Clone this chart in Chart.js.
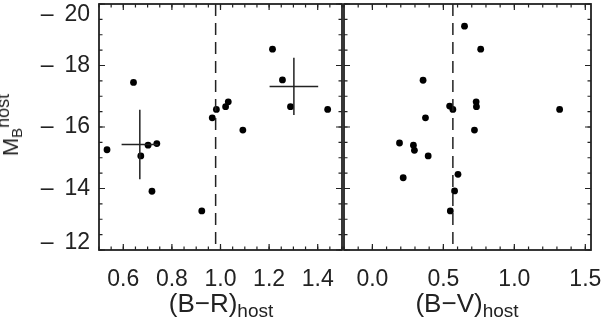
<!DOCTYPE html>
<html>
<head>
<meta charset="utf-8">
<script src="https://cdn.jsdelivr.net/npm/chart.js@4.4.1/dist/chart.umd.min.js"></script>
<style>
    html, body { margin: 0; padding: 0; background: #fff; }
    #wrap { position: relative; width: 602px; height: 322px; overflow: hidden; font-family: "Liberation Sans", Arial, sans-serif; color: #222; }
    canvas { position: absolute; top: 0; }
    #cL { left: 0; }
    #cR { left: 340px; }
    .xt { position: absolute; top: 290px; font-size: 26px; line-height: 26px; white-space: nowrap; transform: translateX(-50%); }
    .xt span { font-size: 19px; position: relative; top: 5px; }
    #yt { position: absolute; left: 12px; top: 125px; font-size: 22px; line-height: 22px; white-space: nowrap; transform: translate(-50%, -50%) rotate(-90deg); }
    #yt .sb { font-size: 15px; position: relative; top: 4px; }
    #yt .sp { font-size: 18px; position: relative; top: -9px; }
</style>
</head>
<body>
<div id="wrap">
    <canvas id="cL" width="346" height="322"></canvas>
    <canvas id="cR" width="262" height="322"></canvas>
    <div class="xt" style="left:221px">(B&minus;R)<span>host</span></div>
    <div class="xt" style="left:467px">(B&minus;V)<span>host</span></div>
    <div id="yt">M<span class="sb">B</span><span class="sp">host</span></div>
</div>
<script>
// (B-R)host panel
const brX = [0.533, 0.642, 0.672, 0.702, 0.738, 0.718, 0.923, 0.966, 0.983, 1.021, 1.032, 1.092, 1.214, 1.255, 1.288, 1.441];
const brY = [-15.26, -17.45, -15.06, -15.41, -15.46, -13.91, -13.27, -16.30, -16.57, -16.66, -16.82, -15.90, -18.53, -17.53, -16.66, -16.57];
// mean points with error bars (left panel)
const errX = [0.668, 1.302];
const errY = [-15.43, -17.32];
const errDx = [0.075, 0.10];
const errDy = [1.13, 0.93];
// (B-V)host panel
const bvX = [0.649, 0.763, 0.357, 0.544, 0.567, 0.731, 0.733, 1.319, 0.374, 0.719, 0.191, 0.289, 0.296, 0.393, 0.217, 0.603, 0.579, 0.549];
const bvY = [-19.28, -18.53, -17.52, -16.68, -16.57, -16.82, -16.66, -16.57, -16.30, -15.90, -15.48, -15.41, -15.24, -15.06, -14.35, -14.46, -13.92, -13.27];
// dashed dividing colours
const cutBR = 0.98;
const cutBV = 0.567;
// axes
const yRange = [-20, -12];
const brRange = [0.5, 1.5];
const bvRange = [-0.2, 1.54];
const yTicks = [-20, -18, -16, -14, -12];
const brTicks = [0.6, 0.8, 1.0, 1.2, 1.4];
const bvTicks = [0.0, 0.5, 1.0, 1.5];

const INK = '#222';
const FONT = '"Liberation Sans", Arial, sans-serif';

// box frame + inward tick marks, y labels kept inside the frame like the original
const framePlugin = {
    id: 'frame',
    afterDatasetsDraw(chart, args, o) {
        const { ctx, chartArea: a, scales: { x, y } } = chart;
        ctx.save();
        ctx.strokeStyle = INK;
        ctx.lineWidth = 1.2;
        const marks = (scale, step, len, horiz) => {
            const k0 = Math.ceil(scale.min / step - 1e-6);
            for (let k = k0; k * step <= scale.max + 1e-6; k++) {
                const p = scale.getPixelForValue(k * step);
                ctx.beginPath();
                if (horiz) {
                    ctx.moveTo(p, a.bottom); ctx.lineTo(p, a.bottom - len);
                    ctx.moveTo(p, a.top); ctx.lineTo(p, a.top + len);
                } else {
                    ctx.moveTo(a.left, p); ctx.lineTo(a.left + len, p);
                    ctx.moveTo(a.right, p); ctx.lineTo(a.right - len, p);
                }
                ctx.stroke();
            }
        };
        marks(x, o.xMinor, 3.5, true);
        marks(x, o.xMajor, 6, true);
        marks(y, 0.5, 3.5, false);
        marks(y, 2, 6, false);
        ctx.lineWidth = 1.8;
        ctx.strokeRect(a.left, a.top, a.right - a.left, a.bottom - a.top);

        if (o.yLabels) {
            ctx.fillStyle = INK;
            ctx.font = '23px ' + FONT;
            ctx.textAlign = 'right';
            ctx.textBaseline = 'middle';
            const rx = a.left - 9;
            y.ticks.forEach((t) => {
                const p = y.getPixelForValue(t.value);
                const py = Math.min(Math.max(p, a.top + 11), a.bottom - 7);
                const digits = String(Math.abs(t.value));
                ctx.fillText(digits, rx, py);
                if (t.value < 0) {
                    const w = ctx.measureText(digits).width;
                    ctx.fillText('\u2013', rx - w - 11, py);
                }
            });
        }
        ctx.restore();
    }
};

function pts(xs, ys) {
    return xs.map((v, i) => ({ x: v, y: ys[i] }));
}

function cutLine(c) {
    return {
        type: 'line',
        data: [{ x: c, y: yRange[0] }, { x: c, y: yRange[1] }],
        borderColor: INK,
        borderWidth: 1.5,
        borderDash: [12, 7],
        pointRadius: 0
    };
}

function errBars() {
    const out = [];
    errX.forEach((cx, i) => {
        const cy = errY[i];
        out.push({ type: 'line', data: [{ x: cx - errDx[i], y: cy }, { x: cx + errDx[i], y: cy }], borderColor: INK, borderWidth: 1.5, pointRadius: 0 });
        out.push({ type: 'line', data: [{ x: cx, y: cy - errDy[i] }, { x: cx, y: cy + errDy[i] }], borderColor: INK, borderWidth: 1.5, pointRadius: 0 });
    });
    return out;
}

function makePanel(canvasId, cfg) {
    return new Chart(document.getElementById(canvasId).getContext('2d'), {
        type: 'scatter',
        data: {
            datasets: [
                ...cfg.extra,
                { data: cfg.points, backgroundColor: '#000', borderWidth: 0, pointRadius: 3.4 }
            ]
        },
        options: {
            responsive: false,
            animation: false,
            events: [],
            layout: { padding: cfg.padding },
            plugins: {
                legend: { display: false },
                tooltip: { enabled: false },
                frame: { xMinor: cfg.xMinor, xMajor: cfg.xMajor, yLabels: cfg.yLabels }
            },
            scales: {
                x: {
                    type: 'linear',
                    min: cfg.xRange[0],
                    max: cfg.xRange[1],
                    grid: { display: false, drawTicks: false },
                    border: { display: false },
                    ticks: { color: INK, font: { family: FONT, size: 23 }, padding: 16, maxRotation: 0, autoSkip: false, callback: (v) => v.toFixed(1) },
                    afterBuildTicks: (s) => { s.ticks = cfg.xTicks.map((value) => ({ value })); },
                    afterFit: (s) => { s.height = 72; s.paddingLeft = 0; s.paddingRight = 0; }
                },
                y: {
                    type: 'linear',
                    reverse: true,
                    min: yRange[0],
                    max: yRange[1],
                    grid: { display: false, drawTicks: false },
                    border: { display: false },
                    ticks: { display: false },
                    afterBuildTicks: (s) => { s.ticks = yTicks.map((value) => ({ value })); },
                    afterFit: (s) => { s.width = cfg.yWidth; s.paddingTop = 0; s.paddingBottom = 0; }
                }
            }
        },
        plugins: [framePlugin]
    });
}

makePanel('cL', {
    points: pts(brX, brY),
    extra: [cutLine(cutBR), ...errBars()],
    xRange: brRange, xTicks: brTicks, xMinor: 0.05, xMajor: 0.2,
    yWidth: 99, yLabels: true,
    padding: { left: 0, right: 2, top: 1, bottom: 0 }
});

makePanel('cR', {
    points: pts(bvX, bvY),
    extra: [cutLine(cutBV)],
    xRange: bvRange, xTicks: bvTicks, xMinor: 0.1, xMajor: 0.5,
    yWidth: 4, yLabels: false,
    padding: { left: 0, right: 11, top: 1, bottom: 0 }
});
</script>
</body>
</html>
